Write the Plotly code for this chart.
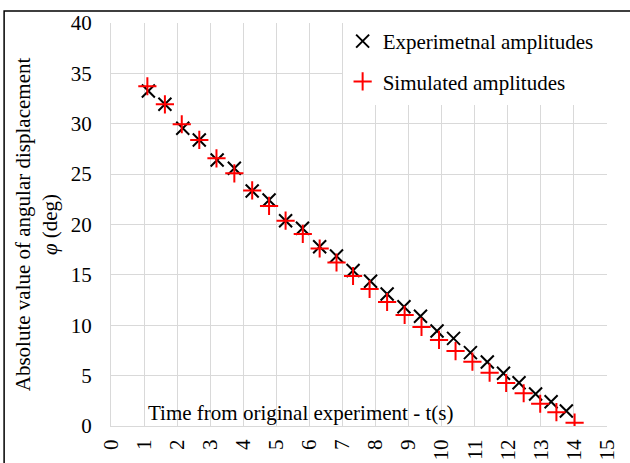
import plotly.graph_objects as go

# Experimental amplitudes (black x)
exp_t = [1.13, 1.63, 2.17, 2.67, 3.21, 3.73, 4.27, 4.78, 5.28, 5.79, 6.31, 6.82, 7.32,
         7.85, 8.35, 8.86, 9.36, 9.86, 10.36, 10.87, 11.38, 11.87, 12.34, 12.84, 13.31, 13.77]
exp_phi = [33.25, 31.93, 29.55, 28.39, 26.40, 25.58, 23.33, 22.43, 20.38, 19.62, 17.80, 16.87, 15.43,
           14.36, 13.10, 11.84, 10.89, 9.43, 8.70, 7.28, 6.35, 5.23, 4.30, 3.18, 2.41, 1.49]

# Simulated amplitudes (red +)
sim_t = [1.10, 1.63, 2.14, 2.67, 3.19, 3.73, 4.27, 4.78, 5.28, 5.80, 6.31, 6.82, 7.32,
         7.82, 8.35, 8.88, 9.39, 9.92, 10.42, 10.93, 11.45, 11.95, 12.48, 12.98, 13.47, 14.02]
sim_phi = [33.72, 31.93, 29.95, 28.39, 26.57, 25.08, 23.38, 21.84, 20.38, 19.06, 17.62, 16.23, 14.89,
           13.60, 12.31, 11.02, 9.83, 8.54, 7.44, 6.38, 5.29, 4.27, 3.25, 2.21, 1.37, 0.33]

x_ticks = list(range(0, 16))
y_ticks = list(range(0, 41, 5))

FONT = "Liberation Serif, Times New Roman, serif"
FS = 21

fig = go.Figure()
fig.add_trace(go.Scatter(
    x=exp_t, y=exp_phi, mode="markers", name="Experimetnal amplitudes",
    legendgroup="a",
    marker=dict(symbol="x-thin", size=13, color="black", line=dict(width=2, color="black")),
))
fig.add_trace(go.Scatter(
    x=sim_t, y=sim_phi, mode="markers", name="Simulated amplitudes",
    legendgroup="b",
    marker=dict(symbol="cross-thin", size=13, color="#FF0000", line=dict(width=2, color="#FF0000")),
))

fig.update_layout(
    width=630, height=463,
    margin=dict(l=111, r=23, t=23, b=37, autoexpand=False),
    paper_bgcolor="white", plot_bgcolor="white",
    font=dict(family=FONT, size=FS, color="black"),
    showlegend=True,
    legend=dict(
        x=0.467, y=1.005, xanchor="left", yanchor="top",
        bgcolor="white", borderwidth=0,
        traceorder="grouped", tracegroupgap=10,
        font=dict(family=FONT, size=FS, color="black"),
    ),
    xaxis=dict(
        range=[0, 15], tickvals=x_ticks, ticktext=[str(v) for v in x_ticks],
        tickangle=-90, showgrid=True, gridcolor="#D9D9D9", gridwidth=1.3,
        showline=True, linecolor="#D9D9D9", linewidth=1.3, zeroline=False,
        ticks="", ticklabelstandoff=4, automargin=False,
        tickfont=dict(family=FONT, size=FS, color="black"),
    ),
    yaxis=dict(
        range=[0, 40], tickvals=y_ticks, ticktext=[str(v) for v in y_ticks],
        showgrid=True, gridcolor="#D9D9D9", gridwidth=1.3,
        showline=True, linecolor="#D9D9D9", linewidth=1.3, zeroline=False,
        ticks="", ticklabelstandoff=14, automargin=False,
        tickfont=dict(family=FONT, size=FS, color="black"),
        title=dict(text="Absolute value of angular displacement<br><i>φ</i> (deg)",
                   font=dict(family=FONT, size=FS, color="black"), standoff=7),
    ),
    annotations=[dict(
        text="Time from original experiment - t(s)", xref="paper", yref="paper",
        x=0.383, y=0.032, xanchor="center", yanchor="middle", showarrow=False,
        font=dict(family=FONT, size=FS, color="black"),
    )],
    shapes=[
        dict(
            type="rect", xref="paper", yref="paper",
            x0=0.485, x1=1.02, y0=0.7965, y1=1.01,
            line=dict(width=0), fillcolor="white", layer="above",
        ),
        dict(
            type="rect", xref="paper", yref="paper",
            x0=-0.2155, x1=1.08, y0=-0.2, y1=1.0298,
            line=dict(color="black", width=1.5), fillcolor="rgba(0,0,0,0)", layer="above",
        ),
    ],
)

fig.write_html("out.html")
